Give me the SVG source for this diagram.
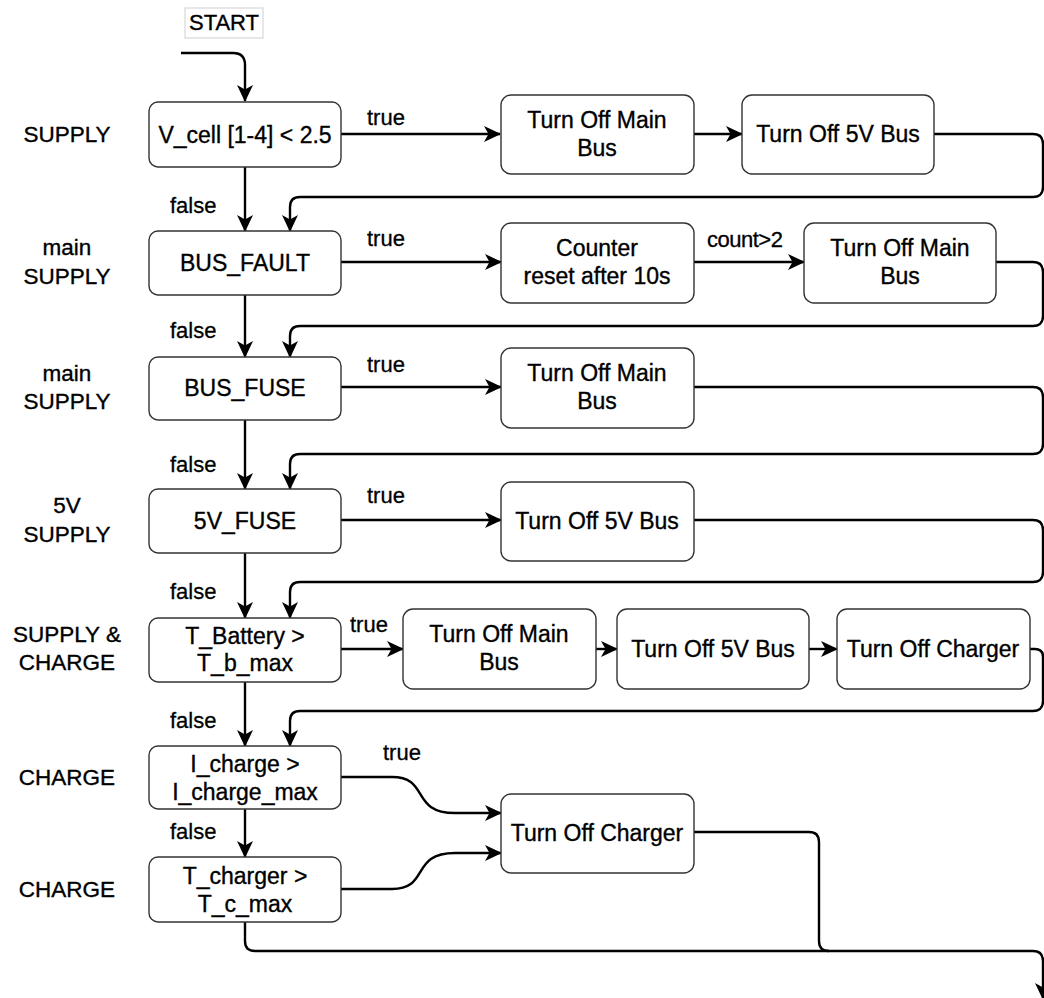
<svg xmlns="http://www.w3.org/2000/svg" width="1044" height="998" viewBox="0 0 1044 998">
<style>
  .box { fill: #ffffff; stroke: #333333; stroke-width: 1.4; }
  .t { font-family: "Liberation Sans", Arial, Helvetica, sans-serif; font-size: 23px; fill: #000000; stroke: #000000; stroke-width: 0.35; text-anchor: middle; }
  .lbl { font-family: "Liberation Sans", Arial, Helvetica, sans-serif; font-size: 22px; fill: #000000; stroke: #000000; stroke-width: 0.3; }
  .side { font-family: "Liberation Sans", Arial, Helvetica, sans-serif; font-size: 22.5px; fill: #000000; stroke: #000000; stroke-width: 0.35; text-anchor: middle; }
  .c { fill: none; stroke: #000000; stroke-width: 2.4; }
</style>
<defs>
  <marker id="arr" markerWidth="20" markerHeight="20" refX="16" refY="9" orient="auto" markerUnits="userSpaceOnUse">
    <path d="M0,1 L17,9 L0,17 L4.5,9 Z" fill="#000000"/>
  </marker>
</defs>
<rect width="1044" height="998" fill="#ffffff"/>

<g id="start">
  <rect x="185" y="8" width="78" height="30" fill="#ffffff" stroke="#cfcfcf" stroke-width="1"/>
  <text class="t" x="224" y="30" style="font-size:22px">START</text>
</g>

<g id="side-labels">
  <text class="side" x="67" y="142">SUPPLY</text>
  <text class="side" x="67" y="255">main</text>
  <text class="side" x="67" y="284">SUPPLY</text>
  <text class="side" x="67" y="381">main</text>
  <text class="side" x="67" y="409">SUPPLY</text>
  <text class="side" x="67" y="513">5V</text>
  <text class="side" x="67" y="542">SUPPLY</text>
  <text class="side" x="67" y="642">SUPPLY &amp;</text>
  <text class="side" x="67" y="670">CHARGE</text>
  <text class="side" x="67" y="785">CHARGE</text>
  <text class="side" x="67" y="897">CHARGE</text>
</g>

<g id="connectors">
  <path class="c" d="M181,53 H233 Q245,53 245,65 V101" marker-end="url(#arr)"/>
  <path class="c" d="M341,134 H500" marker-end="url(#arr)"/>
  <path class="c" d="M694,134 H742" marker-end="url(#arr)"/>
  <path class="c" d="M934,134 H1033 Q1043,134 1043,144 V187 Q1043,197 1033,197 H300 Q290,197 290,207 V231" marker-end="url(#arr)"/>
  <path class="c" d="M245,167 V231" marker-end="url(#arr)"/>

  <path class="c" d="M341,262 H501" marker-end="url(#arr)"/>
  <path class="c" d="M694,262 H804" marker-end="url(#arr)"/>
  <path class="c" d="M996,262 H1033 Q1043,262 1043,272 V316 Q1043,326 1033,326 H300 Q290,326 290,336 V357" marker-end="url(#arr)"/>
  <path class="c" d="M245,295 V357" marker-end="url(#arr)"/>

  <path class="c" d="M341,387 H501" marker-end="url(#arr)"/>
  <path class="c" d="M694,387 H1033 Q1043,387 1043,397 V444 Q1043,454 1033,454 H300 Q290,454 290,464 V489" marker-end="url(#arr)"/>
  <path class="c" d="M245,420 V489" marker-end="url(#arr)"/>

  <path class="c" d="M341,520 H501" marker-end="url(#arr)"/>
  <path class="c" d="M694,520 H1033 Q1043,520 1043,530 V572 Q1043,582 1033,582 H300 Q290,582 290,592 V618" marker-end="url(#arr)"/>
  <path class="c" d="M245,553 V618" marker-end="url(#arr)"/>

  <path class="c" d="M341,649 H403" marker-end="url(#arr)"/>
  <path class="c" d="M596,649 H617" marker-end="url(#arr)"/>
  <path class="c" d="M809,649 H837" marker-end="url(#arr)"/>
  <path class="c" d="M1030,649 H1035 Q1043,649 1043,657 V701 Q1043,711 1033,711 H300 Q290,711 290,721 V746" marker-end="url(#arr)"/>
  <path class="c" d="M245,682 V746" marker-end="url(#arr)"/>

  <path class="c" d="M341,777 H392 C430,777 410,813 455,813 H501" marker-end="url(#arr)"/>
  <path class="c" d="M341,889 H392 C430,889 410,853 455,853 H501" marker-end="url(#arr)"/>
  <path class="c" d="M245,809 V857" marker-end="url(#arr)"/>

  <path class="c" d="M245,922 V941 Q245,951 255,951 H1033 Q1043,951 1043,961 V999" marker-end="url(#arr)"/>
  <path class="c" d="M694,832 H809 Q819,832 819,842 V941 Q819,951 829,951"/>
</g>

<g id="edge-labels">
  <text class="lbl" x="367" y="125">true</text>
  <text class="lbl" x="170" y="213">false</text>
  <text class="lbl" x="367" y="246">true</text>
  <text class="lbl" x="707" y="247" style="letter-spacing:-0.5px">count&gt;2</text>
  <text class="lbl" x="170" y="338">false</text>
  <text class="lbl" x="367" y="372">true</text>
  <text class="lbl" x="170" y="472">false</text>
  <text class="lbl" x="367" y="503">true</text>
  <text class="lbl" x="170" y="599">false</text>
  <text class="lbl" x="350" y="632">true</text>
  <text class="lbl" x="170" y="728">false</text>
  <text class="lbl" x="383" y="760">true</text>
  <text class="lbl" x="170" y="839">false</text>
</g>

<g id="n-vcell">
  <rect class="box" x="149" y="102" width="192" height="65" rx="9"/>
  <text class="t" x="245" y="143">V_cell [1-4] &lt; 2.5</text>
</g>
<g id="n-r1-main">
  <rect class="box" x="501" y="95" width="193" height="79" rx="10"/>
  <text class="t" x="597" y="128">Turn Off Main</text>
  <text class="t" x="597" y="156">Bus</text>
</g>
<g id="n-r1-5v">
  <rect class="box" x="742" y="95" width="192" height="79" rx="10"/>
  <text class="t" x="838" y="142">Turn Off 5V Bus</text>
</g>

<g id="n-busfault">
  <rect class="box" x="149" y="231" width="192" height="64" rx="9"/>
  <text class="t" x="245" y="271">BUS_FAULT</text>
</g>
<g id="n-counter">
  <rect class="box" x="501" y="223" width="193" height="80" rx="10"/>
  <text class="t" x="597" y="256">Counter</text>
  <text class="t" x="597" y="284">reset after 10s</text>
</g>
<g id="n-r2-main">
  <rect class="box" x="804" y="223" width="192" height="80" rx="10"/>
  <text class="t" x="900" y="256">Turn Off Main</text>
  <text class="t" x="900" y="284">Bus</text>
</g>

<g id="n-busfuse">
  <rect class="box" x="149" y="357" width="192" height="63" rx="9"/>
  <text class="t" x="245" y="396">BUS_FUSE</text>
</g>
<g id="n-r3-main">
  <rect class="box" x="501" y="348" width="193" height="80" rx="10"/>
  <text class="t" x="597" y="381">Turn Off Main</text>
  <text class="t" x="597" y="409">Bus</text>
</g>

<g id="n-5vfuse">
  <rect class="box" x="149" y="489" width="192" height="64" rx="9"/>
  <text class="t" x="245" y="529">5V_FUSE</text>
</g>
<g id="n-r4-5v">
  <rect class="box" x="501" y="482" width="193" height="79" rx="10"/>
  <text class="t" x="597" y="529">Turn Off 5V Bus</text>
</g>

<g id="n-tbattery">
  <rect class="box" x="149" y="618" width="192" height="64" rx="9"/>
  <text class="t" x="245" y="644">T_Battery &gt;</text>
  <text class="t" x="245" y="671">T_b_max</text>
</g>
<g id="n-r5-main">
  <rect class="box" x="403" y="609" width="193" height="80" rx="10"/>
  <text class="t" x="499" y="642">Turn Off Main</text>
  <text class="t" x="499" y="670">Bus</text>
</g>
<g id="n-r5-5v">
  <rect class="box" x="617" y="609" width="192" height="80" rx="10"/>
  <text class="t" x="713" y="657">Turn Off 5V Bus</text>
</g>
<g id="n-r5-charger">
  <rect class="box" x="837" y="609" width="193" height="80" rx="10"/>
  <text class="t" x="933" y="657">Turn Off Charger</text>
</g>

<g id="n-icharge">
  <rect class="box" x="149" y="746" width="192" height="63" rx="9"/>
  <text class="t" x="245" y="772">I_charge &gt;</text>
  <text class="t" x="245" y="800">I_charge_max</text>
</g>
<g id="n-r6-charger">
  <rect class="box" x="501" y="794" width="193" height="79" rx="10"/>
  <text class="t" x="597" y="841">Turn Off Charger</text>
</g>
<g id="n-tcharger">
  <rect class="box" x="149" y="857" width="192" height="65" rx="9"/>
  <text class="t" x="245" y="884">T_charger &gt;</text>
  <text class="t" x="245" y="912">T_c_max</text>
</g>
</svg>
